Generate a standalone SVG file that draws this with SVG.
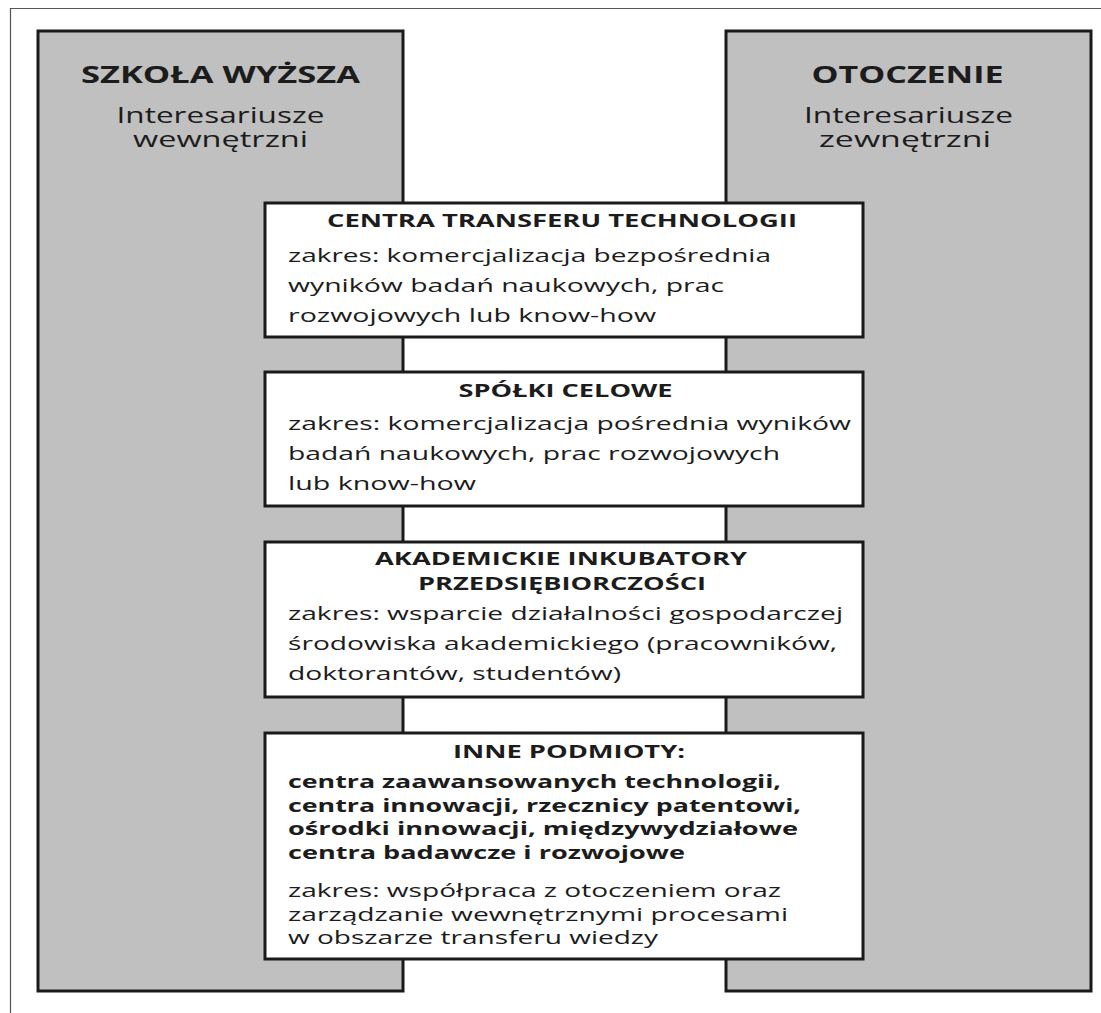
<svg xmlns="http://www.w3.org/2000/svg" width="1101" height="1013" viewBox="0 0 1101 1013">
<style>
text{font-family:"Open Sans","Liberation Sans",sans-serif;fill:#1c1c1c}
.h{font-size:23px;font-weight:700;text-anchor:middle}
.s{font-size:21px;text-anchor:middle}
.t{font-size:17.5px;font-weight:700;text-anchor:middle}
.r{font-size:19px}
.b{font-size:18.5px;font-weight:700}
.col{fill:#c0c0c0;stroke:#1a1a1a;stroke-width:3}
.box{fill:#ffffff;stroke:#1a1a1a;stroke-width:3}
</style>
<rect width="1101" height="1013" fill="#ffffff"/>
<path d="M10.5 1013V8.5H1101" fill="none" stroke="#555" stroke-width="1.2"/>
<g id="szkola">
<rect class="col" x="38" y="31" width="365" height="960"/>
<text class="h" x="220.5" y="83" textLength="279" lengthAdjust="spacingAndGlyphs">SZKOŁA WYŻSZA</text>
<text class="s" x="220.5" y="123" textLength="208" lengthAdjust="spacingAndGlyphs">Interesariusze</text>
<text class="s" x="220.5" y="146.5" textLength="175" lengthAdjust="spacingAndGlyphs">wewnętrzni</text>
</g>
<g id="otoczenie">
<rect class="col" x="726" y="31" width="365" height="960"/>
<text class="h" x="907.5" y="83" textLength="192" lengthAdjust="spacingAndGlyphs">OTOCZENIE</text>
<text class="s" x="908.5" y="123" textLength="209" lengthAdjust="spacingAndGlyphs">Interesariusze</text>
<text class="s" x="905" y="146.5" textLength="172" lengthAdjust="spacingAndGlyphs">zewnętrzni</text>
</g>
<g id="connectors"></g>
<g id="ctt">
<rect class="box" x="265" y="203" width="598" height="134"/>
<text class="t" x="562" y="227" textLength="470" lengthAdjust="spacingAndGlyphs">CENTRA TRANSFERU TECHNOLOGII</text>
<text class="r" x="288" y="262" textLength="483" lengthAdjust="spacingAndGlyphs">zakres: komercjalizacja bezpośrednia</text>
<text class="r" x="288" y="292" textLength="436" lengthAdjust="spacingAndGlyphs">wyników badań naukowych, prac</text>
<text class="r" x="288" y="322" textLength="368" lengthAdjust="spacingAndGlyphs">rozwojowych lub know-how</text>
</g>
<g id="spolki">
<rect class="box" x="265" y="372" width="598" height="134"/>
<text class="t" x="565.5" y="397" textLength="214" lengthAdjust="spacingAndGlyphs">SPÓŁKI CELOWE</text>
<text class="r" x="288" y="430" textLength="563" lengthAdjust="spacingAndGlyphs">zakres: komercjalizacja pośrednia wyników</text>
<text class="r" x="288" y="460" textLength="492" lengthAdjust="spacingAndGlyphs">badań naukowych, prac rozwojowych</text>
<text class="r" x="288" y="490" textLength="188" lengthAdjust="spacingAndGlyphs">lub know-how</text>
</g>
<g id="aip">
<rect class="box" x="265" y="542" width="598" height="155"/>
<text class="t" x="561" y="565" textLength="372" lengthAdjust="spacingAndGlyphs">AKADEMICKIE INKUBATORY</text>
<text class="t" x="562" y="590" textLength="288" lengthAdjust="spacingAndGlyphs">PRZEDSIĘBIORCZOŚCI</text>
<text class="r" x="288" y="620" textLength="555" lengthAdjust="spacingAndGlyphs">zakres: wsparcie działalności gospodarczej</text>
<text class="r" x="288" y="650" textLength="549" lengthAdjust="spacingAndGlyphs">środowiska akademickiego (pracowników,</text>
<text class="r" x="288" y="680" textLength="333" lengthAdjust="spacingAndGlyphs">doktorantów, studentów)</text>
</g>
<g id="inne">
<rect class="box" x="265" y="733" width="598" height="226"/>
<text class="t" x="569" y="758" textLength="232" lengthAdjust="spacingAndGlyphs">INNE PODMIOTY:</text>
<text class="b" x="288" y="788" textLength="493" lengthAdjust="spacingAndGlyphs">centra zaawansowanych technologii,</text>
<text class="b" x="288" y="811.5" textLength="513" lengthAdjust="spacingAndGlyphs">centra innowacji, rzecznicy patentowi,</text>
<text class="b" x="288" y="835" textLength="510" lengthAdjust="spacingAndGlyphs">ośrodki innowacji, międzywydziałowe</text>
<text class="b" x="288" y="858.5" textLength="397" lengthAdjust="spacingAndGlyphs">centra badawcze i rozwojowe</text>
<text class="r" x="288" y="897" textLength="493" lengthAdjust="spacingAndGlyphs">zakres: współpraca z otoczeniem oraz</text>
<text class="r" x="288" y="921" textLength="500" lengthAdjust="spacingAndGlyphs">zarządzanie wewnętrznymi procesami</text>
<text class="r" x="288" y="944" textLength="370" lengthAdjust="spacingAndGlyphs">w obszarze transferu wiedzy</text>
</g>
</svg>
